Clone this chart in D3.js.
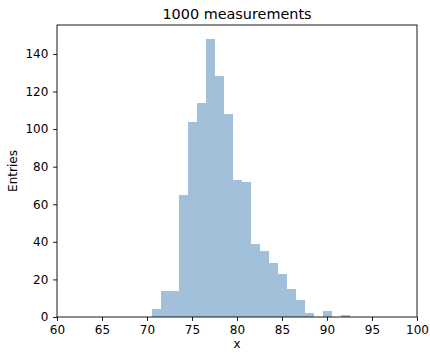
<!DOCTYPE html>
<html><head><meta charset="utf-8">
<script src="https://cdn.jsdelivr.net/npm/d3@7"></script>
<style>body{margin:0;background:#fff}svg{display:block;font-family:"DejaVu Sans",sans-serif}</style>
</head><body><svg id="c" width="430" height="353"></svg>
<script>
const binStarts = [70.5,71.5,72.5,73.5,74.5,75.5,76.5,77.5,78.5,79.5,80.5,81.5,82.5,83.5,84.5,85.5,86.5,87.5,88.5,89.5,90.5,91.5];
const counts    = [4,14,14,65,104,114,148,128,108,73,72,39,35,29,23,15,9,2,0,3,0,1];
const binWidth = 1;
const xTicks = [60,65,70,75,80,85,90,95,100];
const yTicks = [0,20,40,60,80,100,120,140];
const title = "1000 measurements", xLabel = "x", yLabel = "Entries";

const svg = d3.select("#c");
const m = {l:57, r:417, t:25, b:317};
const x = d3.scaleLinear().domain([60,100]).range([m.l,m.r]);
const y = d3.scaleLinear().domain([0,155.4]).range([m.b,m.t]);

svg.append("g").attr("shape-rendering","crispEdges").selectAll("rect").data(counts.map((c,i)=>({x0:binStarts[i],c}))).join("rect")
  .attr("x",d=>x(d.x0)).attr("width",d=>x(d.x0+binWidth)-x(d.x0))
  .attr("y",d=>y(d.c)).attr("height",d=>y(0)-y(d.c))
  .attr("fill","steelblue").attr("fill-opacity",0.5);

const ax = svg.append("g").attr("transform",`translate(0,${m.b})`)
  .call(d3.axisBottom(x).tickValues(xTicks).tickSize(3.9).tickPadding(4.6).tickFormat(d3.format("d")));
const ay = svg.append("g").attr("transform",`translate(${m.l},0)`)
  .call(d3.axisLeft(y).tickValues(yTicks).tickSize(3.9).tickPadding(4.8).tickFormat(d3.format("d")));
[ax,ay].forEach(g=>{g.select(".domain").remove();
  g.selectAll("text").attr("font-size",12).attr("fill","#000").attr("font-family","DejaVu Sans");
  g.selectAll("line").attr("stroke","#000").attr("stroke-width",0.9);});

svg.append("rect").attr("x",m.l).attr("y",m.t).attr("width",m.r-m.l).attr("height",m.b-m.t)
  .attr("fill","none").attr("stroke","#000").attr("stroke-width",0.9);

svg.append("text").attr("x",(m.l+m.r)/2).attr("y",18.5).attr("text-anchor","middle")
  .attr("font-size",14.4).text(title);
svg.append("text").attr("x",(m.l+m.r)/2).attr("y",348.3).attr("text-anchor","middle")
  .attr("font-size",12).text(xLabel);
svg.append("text").attr("transform",`translate(16.7,${(m.t+m.b)/2}) rotate(-90)`).attr("text-anchor","middle")
  .attr("font-size",12).text(yLabel);
</script></body></html>
